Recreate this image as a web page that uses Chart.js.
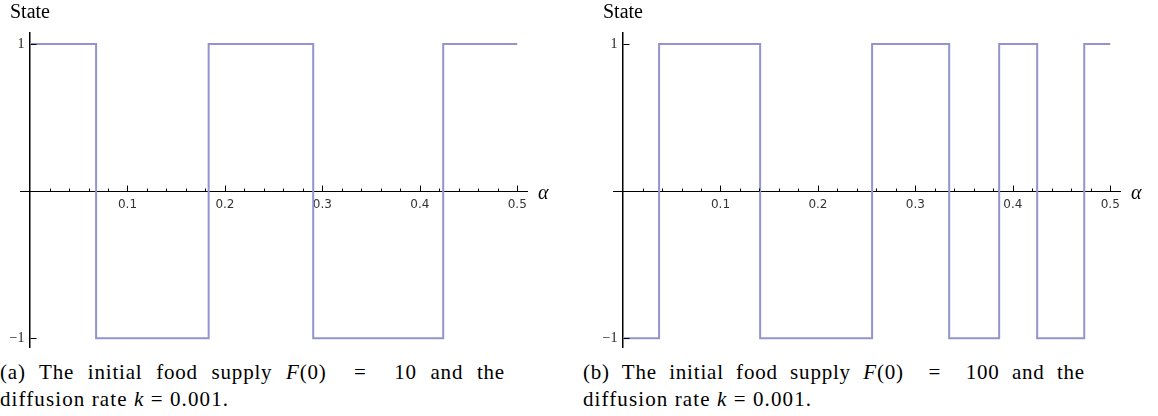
<!DOCTYPE html>
<html><head><meta charset="utf-8">
<script src="https://cdn.jsdelivr.net/npm/chart.js@4"></script>
<style>
body{margin:0;background:#fff;width:1158px;height:416px;overflow:hidden;position:relative;font-family:"Liberation Serif","DejaVu Serif",serif;color:#000;}
canvas{position:absolute;top:0;}
.t{position:absolute;white-space:nowrap;}
.st{font-size:20px;line-height:22px;}
.al{font-size:20px;line-height:22px;font-style:italic;}
.cap{position:absolute;font-size:21px;line-height:24px;white-space:nowrap;letter-spacing:0.8px;}
.j{text-align:justify;text-align-last:justify;}
.cap i{font-style:italic;}
</style></head><body>
<canvas id="c1" style="left:0px" width="560" height="360"></canvas>
<canvas id="c2" style="left:580px" width="578" height="360"></canvas>
<div class="t st" style="left:10px;top:0px">State</div>
<div class="t st" style="left:603px;top:0px">State</div>
<div class="t al" style="left:538px;top:181px">α</div>
<div class="t al" style="left:1131px;top:181px">α</div>
<div class="cap j" style="left:0px;top:360px;width:505px;white-space:normal">(a) The initial food supply <i>F</i>(0) &nbsp;= &nbsp;10 and the</div>
<div class="cap" style="left:0px;top:387px;letter-spacing:1.1px">diffusion rate <i>k</i> = 0.001.</div>
<div class="cap j" style="left:583px;top:360px;width:502px;white-space:normal">(b) The initial food supply <i>F</i>(0) &nbsp;= &nbsp;100 and the</div>
<div class="cap" style="left:583px;top:387px;letter-spacing:1.1px">diffusion rate <i>k</i> = 0.001.</div>
<script>
// Data: switching points (alpha) and state after each switch
const alphaA = [0, 0.0678, 0.1833, 0.2906, 0.424, 0.5];
const stateA = [1, -1, 1, -1, 1, 1];
const alphaB = [0, 0.037, 0.1407, 0.2556, 0.3347, 0.386, 0.425, 0.4733, 0.5];
const stateB = [-1, 1, -1, 1, -1, 1, -1, 1, 1];
// Tick labels / marks
const xTickLabels = [0.1, 0.2, 0.3, 0.4, 0.5];
const xMinorTicks = [0.02,0.04,0.06,0.08,0.12,0.14,0.16,0.18,0.22,0.24,0.26,0.28,0.32,0.34,0.36,0.38,0.42,0.44,0.46,0.48];
const yTickLabels = [-1, 1];
const yTickText = ['\u22121', '1'];

const tickPlugin = {
  id: 'tickMarks',
  afterDraw(chart) {
    const {ctx, scales: {x, y}} = chart;
    const y0 = Math.round(y.getPixelForValue(0)) + 0.5;
    const x0 = Math.round(x.getPixelForValue(0)) + 0.5;
    ctx.save();
    ctx.strokeStyle = '#000';
    ctx.lineWidth = 1;
    ctx.beginPath();
    xMinorTicks.forEach(v => { const p = Math.round(x.getPixelForValue(v)) + 0.5; ctx.moveTo(p, y0); ctx.lineTo(p, y0 - 3); });
    xTickLabels.forEach(v => { const p = Math.round(x.getPixelForValue(v)) + 0.5; ctx.moveTo(p, y0); ctx.lineTo(p, y0 - 6); });
    yTickLabels.forEach(v => { const p = Math.round(y.getPixelForValue(v)) + 0.5; ctx.moveTo(x0, p); ctx.lineTo(x0 + 6, p); });
    ctx.stroke();
    ctx.fillStyle = '#222';
    ctx.font = '14px "Liberation Serif"';
    ctx.textAlign = 'right';
    ctx.textBaseline = 'middle';
    yTickLabels.forEach((v, i) => { ctx.fillText(yTickText[i], x0 - 6, y.getPixelForValue(v)); });
    ctx.restore();
  }
};

function makeChart(id, xs, ys, pad) {
  const pts = xs.map((v, i) => ({x: v, y: ys[i]}));
  return new Chart(document.getElementById(id), {
    type: 'line',
    data: { datasets: [{ data: pts, borderColor: '#9393cf', borderWidth: 2, pointRadius: 0, stepped: 'before', fill: false, clip: false }] },
    options: {
      responsive: false, animation: false,
      layout: { padding: pad },
      plugins: { legend: { display: false }, tooltip: { enabled: false } },
      scales: {
        x: {
          type: 'linear', min: -0.0103, max: 0.51, position: { y: 0 },
          grid: { display: false, drawTicks: false },
          border: { display: true, color: '#000', width: 1 },
          ticks: { color: '#333', font: { family: 'DejaVu Sans', size: 12 }, padding: 7, maxRotation: 0, callback: v => v.toFixed(1) },
          afterBuildTicks: s => { s.ticks = xTickLabels.map(v => ({value: v})); },
          afterFit: s => { s.height = 0; }
        },
        y: {
          type: 'linear', min: -1.06, max: 1.075, position: { x: 0 },
          grid: { display: false, drawTicks: false },
          border: { display: true, color: '#000', width: 1.5 },
          ticks: { display: false },
          afterBuildTicks: s => { s.ticks = yTickLabels.map(v => ({value: v})); },
          afterFit: s => { s.width = 0; }
        }
      }
    },
    plugins: [tickPlugin]
  });
}
makeChart('c1', alphaA, stateA, {left: 20, right: 33, top: 33, bottom: 13});
makeChart('c2', alphaB, stateB, {left: 33, right: 38, top: 33, bottom: 13});
</script>
</body></html>
